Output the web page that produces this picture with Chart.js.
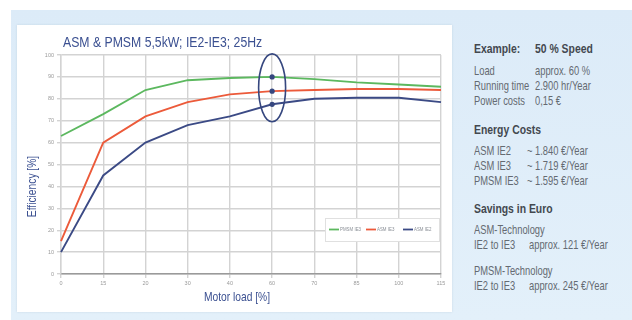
<!DOCTYPE html>
<html>
<head>
<meta charset="utf-8">
<script src="https://cdn.jsdelivr.net/npm/chart.js@4.4.1/dist/chart.umd.min.js"></script>
<style>
  html, body { margin: 0; padding: 0; background: #ffffff; width: 632px; height: 320px; overflow: hidden; }
  #bg { position: absolute; left: 11px; top: 10px; width: 621px; height: 310px; background: linear-gradient(180deg, #dcebf8 0%, #e3f0fa 100%); }
  #panel { position: absolute; left: 17px; top: 25px; width: 435px; height: 287px; background: #ffffff; box-shadow: 0 0 2px rgba(150,170,190,0.35); }
  #panel canvas { display: block; }
  .t { position: absolute; font-family: "Liberation Sans", Arimo, sans-serif; font-size: 13px; line-height: 14px; color: #646a71; white-space: nowrap; transform: scaleX(0.72); transform-origin: 0 50%; }
  .h { font-weight: bold; color: #43484f; transform: scaleX(0.8); }
</style>
</head>
<body>
<div id="bg"></div>
<div id="panel"><canvas id="chart" width="435" height="287"></canvas></div>

<div class="t h" style="left:474px; top:42px;">Example:</div>
<div class="t h" style="left:535px; top:42px;">50 % Speed</div>
<div class="t" style="left:474px; top:64px;">Load</div>
<div class="t" style="left:535px; top:64px;">approx. 60 %</div>
<div class="t" style="left:474px; top:79px;">Running time</div>
<div class="t" style="left:535px; top:79px;">2.900 hr/Year</div>
<div class="t" style="left:474px; top:94px;">Power costs</div>
<div class="t" style="left:535px; top:94px;">0,15 €</div>

<div class="t h" style="left:474px; top:123px;">Energy Costs</div>
<div class="t" style="left:474px; top:144px;">ASM IE2</div>
<div class="t" style="left:527px; top:144px;">~ 1.840 €/Year</div>
<div class="t" style="left:474px; top:159px;">ASM IE3</div>
<div class="t" style="left:527px; top:159px;">~ 1.719 €/Year</div>
<div class="t" style="left:474px; top:174px;">PMSM IE3</div>
<div class="t" style="left:527px; top:174px;">~ 1.595 €/Year</div>

<div class="t h" style="left:474px; top:202px;">Savings in Euro</div>
<div class="t" style="left:474px; top:223px;">ASM-Technology</div>
<div class="t" style="left:474px; top:238px;">IE2 to IE3</div>
<div class="t" style="left:529px; top:238px;">approx. 121 €/Year</div>
<div class="t" style="left:474px; top:264px;">PMSM-Technology</div>
<div class="t" style="left:474px; top:279px;">IE2 to IE3</div>
<div class="t" style="left:529px; top:279px;">approx. 245 €/Year</div>

<script>
// Motor load steps (% of rated load)
const loadLabels = ['0', '15', '20', '30', '40', '60', '70', '85', '100', '115'];

// Efficiency curves [%]
const pmsmIE3 = [63, 73, 84, 88.5, 89.5, 90, 89, 87.5, 86.5, 85.5];
const asmIE3  = [15, 60, 72, 78.5, 82, 83.5, 84, 84.5, 84.5, 84];
const asmIE2  = [10, 45, 60, 68, 72, 77.5, 80, 80.5, 80.5, 78.5];

// Efficiency axis range
const yMin = 0;
const yMax = 100;
const yStep = 10;

// Operating point of the example (60 % load) and the span of the ring around it
const markedIndex = 5;
const ringTop = 100.5;
const ringBottom = 69.5;

const NAVY = '#36477f';
const TITLE_BLUE = '#3b5091';
const FONT = '"Liberation Sans", Arimo, sans-serif';

const markRadius = ctx => (ctx.dataIndex === markedIndex ? 2.6 : 0);

// Draws text squeezed horizontally to mimic a condensed face
function condensedText(ctx, text, x, y, squeeze, align) {
  ctx.save();
  ctx.translate(x, y);
  ctx.scale(squeeze, 1);
  ctx.textAlign = align || 'left';
  ctx.fillText(text, 0, 0);
  ctx.restore();
}

// Chart title and both axis titles
const titlesPlugin = {
  id: 'titles',
  afterDraw(chart) {
    const { ctx, chartArea } = chart;
    ctx.save();
    ctx.fillStyle = TITLE_BLUE;
    ctx.textBaseline = 'middle';
    ctx.font = '15.5px ' + FONT;
    condensedText(ctx, 'ASM & PMSM 5,5kW; IE2-IE3; 25Hz', chartArea.left + 2, chartArea.top - 12, 0.79, 'left');

    ctx.font = '13.5px ' + FONT;
    const midX = (chartArea.left + chartArea.right) / 2;
    condensedText(ctx, 'Motor load [%]', midX - 14, chartArea.bottom + 23, 0.76, 'center');

    const midY = (chartArea.top + chartArea.bottom) / 2;
    ctx.save();
    ctx.translate(chartArea.left - 29, midY + 22);
    ctx.rotate(-Math.PI / 2);
    condensedText(ctx, 'Efficiency [%]', 0, 0, 0.76, 'center');
    ctx.restore();
    ctx.restore();
  }
};

// Ellipse around the operating point
const ringPlugin = {
  id: 'ring',
  afterDatasetsDraw(chart) {
    const { ctx, scales } = chart;
    const cx = scales.x.getPixelForValue(markedIndex);
    const y1 = scales.y.getPixelForValue(ringTop);
    const y2 = scales.y.getPixelForValue(ringBottom);
    ctx.save();
    ctx.strokeStyle = NAVY;
    ctx.lineWidth = 1.6;
    ctx.beginPath();
    ctx.ellipse(cx, (y1 + y2) / 2, 13.5, (y2 - y1) / 2, 0, 0, Math.PI * 2);
    ctx.stroke();
    ctx.restore();
  }
};

// Boxed legend inside the lower right of the plot area
const boxLegendPlugin = {
  id: 'boxLegend',
  afterDatasetsDraw(chart) {
    const { ctx, chartArea } = chart;
    const w = 114, h = 23;
    const x0 = chartArea.right - 116;
    const y0 = chartArea.bottom - 56;
    ctx.save();
    ctx.fillStyle = '#ffffff';
    ctx.fillRect(x0, y0, w, h);
    ctx.strokeStyle = '#e0e0e0';
    ctx.lineWidth = 1;
    ctx.strokeRect(x0 + 0.5, y0 + 0.5, w, h);
    ctx.font = '5.5px ' + FONT;
    ctx.textBaseline = 'middle';
    const yc = y0 + h / 2;
    const slot = 37;
    chart.data.datasets.forEach((ds, i) => {
      const x = x0 + 4 + i * slot;
      ctx.strokeStyle = ds.borderColor;
      ctx.lineWidth = 1.8;
      ctx.beginPath();
      ctx.moveTo(x, yc);
      ctx.lineTo(x + 10, yc);
      ctx.stroke();
      ctx.fillStyle = '#8a8f96';
      condensedText(ctx, ds.label, x + 11, yc, 0.8, 'left');
    });
    ctx.restore();
  }
};

new Chart(document.getElementById('chart'), {
  type: 'line',
  data: {
    labels: loadLabels,
    datasets: [
      { label: 'PMSM IE3', data: pmsmIE3, borderColor: '#5cb85f', borderWidth: 1.9, pointRadius: markRadius, pointBackgroundColor: NAVY, pointBorderWidth: 0, tension: 0 },
      { label: 'ASM IE3',  data: asmIE3,  borderColor: '#ec5a3a', borderWidth: 1.9, pointRadius: markRadius, pointBackgroundColor: NAVY, pointBorderWidth: 0, tension: 0 },
      { label: 'ASM IE2',  data: asmIE2,  borderColor: '#3b4a85', borderWidth: 1.9, pointRadius: markRadius, pointBackgroundColor: NAVY, pointBorderWidth: 0, tension: 0 }
    ]
  },
  options: {
    responsive: false,
    animation: false,
    layout: { padding: { left: 6, right: 11, top: 30, bottom: 6 } },
    plugins: {
      legend: { display: false },
      tooltip: { enabled: false }
    },
    scales: {
      x: {
        offset: false,
        grid: { color: '#d3d3d3', lineWidth: 1.4, tickLength: 4, drawTicks: true },
        border: { color: '#9a9a9a', width: 1.6 },
        ticks: { color: '#9a9a9a', font: { size: 5.5, family: FONT }, padding: 2, maxRotation: 0, autoSkip: false },
        afterFit(scale) { scale.height = 32; }
      },
      y: {
        min: yMin,
        max: yMax,
        grid: { color: '#d3d3d3', lineWidth: 1.4, tickLength: 4 },
        border: { color: '#d3d3d3', width: 1.4 },
        ticks: { stepSize: yStep, color: '#9a9a9a', font: { size: 5.5, family: FONT }, padding: 3 },
        afterFit(scale) { scale.width = 38; }
      }
    }
  },
  plugins: [titlesPlugin, ringPlugin, boxLegendPlugin]
});
</script>
</body>
</html>
